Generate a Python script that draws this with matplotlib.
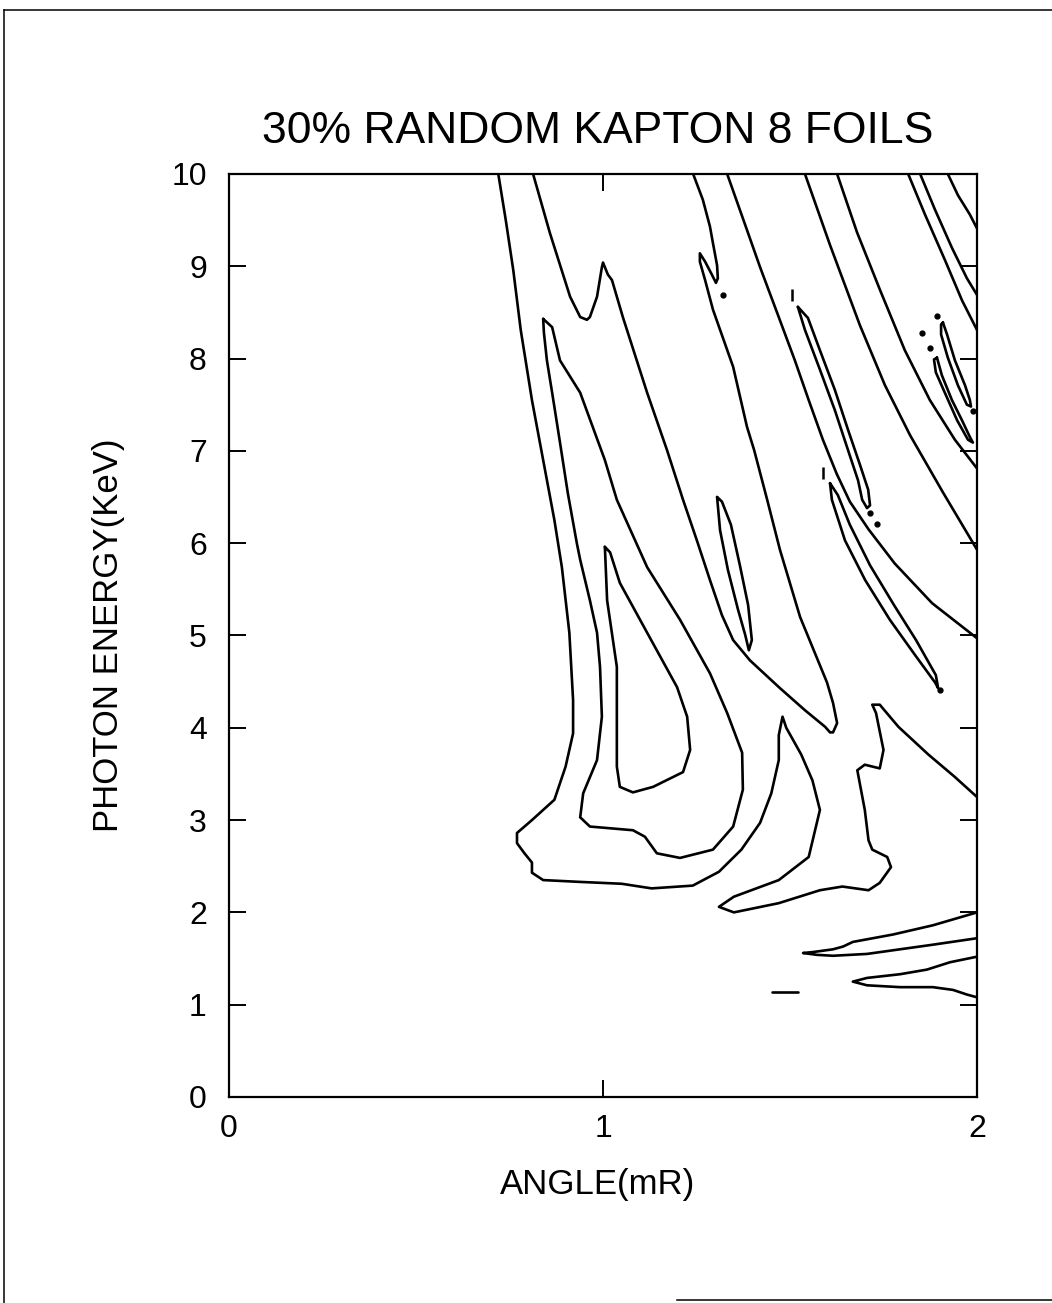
import numpy as np
import matplotlib
matplotlib.use("Agg")
import matplotlib.pyplot as plt
from matplotlib.lines import Line2D

plt.rcParams["font.family"] = ["Liberation Sans", "DejaVu Sans"]

title = "30% RANDOM KAPTON 8 FOILS"
x_label = "ANGLE(mR)"
y_label = "PHOTON ENERGY(KeV)"
x_ticks = [0, 1, 2]
y_ticks = list(range(0, 11))

# contour traces, as (angle mR, energy keV) pairs
outer = [(0.72, 10.0), (0.74, 9.50), (0.76, 8.96), (0.78, 8.31), (0.81, 7.55), (0.84, 6.90),
         (0.87, 6.25), (0.89, 5.74), (0.91, 5.03), (0.92, 4.30), (0.92, 3.94), (0.90, 3.58),
         (0.87, 3.22), (0.81, 3.00), (0.77, 2.86), (0.77, 2.75), (0.79, 2.64), (0.81, 2.54),
         (0.81, 2.43), (0.84, 2.35), (0.94, 2.33), (1.05, 2.31), (1.13, 2.26), (1.24, 2.29),
         (1.31, 2.44), (1.37, 2.68), (1.42, 2.97), (1.45, 3.29), (1.47, 3.65), (1.47, 3.92),
         (1.48, 4.12), (1.49, 4.00), (1.53, 3.71), (1.56, 3.43), (1.58, 3.11), (1.55, 2.60),
         (1.47, 2.35), (1.35, 2.17), (1.31, 2.06), (1.35, 2.00), (1.47, 2.10), (1.58, 2.24),
         (1.64, 2.28), (1.71, 2.24), (1.74, 2.32), (1.77, 2.49), (1.76, 2.60), (1.72, 2.68),
         (1.71, 2.78), (1.70, 3.11), (1.68, 3.54), (1.70, 3.60), (1.74, 3.56), (1.75, 3.76),
         (1.73, 4.16), (1.72, 4.25), (1.74, 4.25), (1.79, 4.01), (1.87, 3.71), (1.94, 3.47),
         (2.0, 3.25)]

fold = [(0.813, 10.0), (0.858, 9.36), (0.912, 8.67), (0.939, 8.45), (0.957, 8.42), (0.965, 8.45),
        (0.984, 8.67), (0.997, 8.99), (1.000, 9.04), (1.013, 8.91), (1.024, 8.85), (1.053, 8.45),
        (1.118, 7.63), (1.171, 7.01), (1.214, 6.47), (1.251, 6.03), (1.286, 5.60), (1.318, 5.22),
        (1.348, 4.95), (1.393, 4.73), (1.473, 4.43), (1.540, 4.19), (1.594, 4.01), (1.607, 3.95),
        (1.615, 3.95), (1.626, 4.05), (1.615, 4.27), (1.599, 4.49), (1.527, 5.20), (1.473, 5.93),
        (1.439, 6.47), (1.404, 7.01), (1.385, 7.26), (1.348, 7.91), (1.294, 8.53), (1.273, 8.85),
        (1.259, 9.05), (1.259, 9.14), (1.273, 9.05), (1.291, 8.91), (1.302, 8.82), (1.307, 8.87),
        (1.305, 9.01), (1.294, 9.25), (1.286, 9.43), (1.267, 9.72), (1.241, 10.0)]

loop_mid = [(0.840, 8.43), (0.842, 8.28), (0.850, 7.98), (0.864, 7.63), (0.885, 7.09), (0.906, 6.54),
            (0.930, 6.00), (0.939, 5.82), (0.965, 5.38), (0.984, 5.03), (0.992, 4.66), (0.997, 4.12),
            (0.984, 3.65), (0.947, 3.29), (0.939, 3.03), (0.965, 2.93), (1.080, 2.89), (1.112, 2.82),
            (1.144, 2.64), (1.206, 2.59), (1.294, 2.68), (1.348, 2.93), (1.374, 3.33), (1.372, 3.73),
            (1.332, 4.16), (1.286, 4.59), (1.206, 5.17), (1.118, 5.74), (1.037, 6.47), (1.005, 6.90),
            (0.939, 7.63), (0.885, 7.98), (0.864, 8.34), (0.840, 8.43)]

loop_inner = [(1.005, 5.96), (1.011, 5.38), (1.037, 4.66), (1.037, 3.58), (1.045, 3.36), (1.080, 3.30),
              (1.134, 3.36), (1.214, 3.52), (1.233, 3.76), (1.225, 4.12), (1.198, 4.44), (1.118, 5.03),
              (1.045, 5.57), (1.019, 5.90), (1.005, 5.96)]

finger = [(1.305, 6.50), (1.313, 6.14), (1.334, 5.71), (1.361, 5.28), (1.380, 5.01), (1.390, 4.84),
          (1.398, 4.95), (1.388, 5.33), (1.366, 5.76), (1.342, 6.20), (1.318, 6.45), (1.305, 6.50)]

sweep = [(1.332, 10.0), (1.380, 9.45), (1.420, 8.99), (1.468, 8.47), (1.513, 7.98), (1.550, 7.55),
         (1.588, 7.12), (1.625, 6.75), (1.660, 6.45), (1.710, 6.15), (1.780, 5.78), (1.880, 5.35),
         (2.0, 4.97)]

streak_upper = [(1.521, 8.56), (1.540, 8.31), (1.580, 7.88), (1.620, 7.44), (1.655, 7.01), (1.682, 6.68),
                (1.693, 6.47), (1.706, 6.38), (1.714, 6.41), (1.709, 6.58), (1.687, 6.85), (1.655, 7.23),
                (1.620, 7.66), (1.580, 8.09), (1.548, 8.44), (1.521, 8.56)]

streak_lower = [(1.607, 6.65), (1.612, 6.47), (1.647, 6.03), (1.701, 5.60), (1.767, 5.17), (1.834, 4.79),
                (1.888, 4.49), (1.896, 4.43), (1.890, 4.57), (1.837, 4.95), (1.778, 5.33), (1.714, 5.76),
                (1.660, 6.20), (1.628, 6.52), (1.607, 6.65)]

band1 = [(1.540, 10.0), (1.607, 9.23), (1.687, 8.36), (1.754, 7.71), (1.821, 7.17), (1.909, 6.55), (2.0, 5.93)]
band2 = [(1.626, 10.0), (1.679, 9.37), (1.741, 8.74), (1.807, 8.09), (1.874, 7.55), (1.941, 7.12), (2.0, 6.81)]
band3 = [(1.816, 10.0), (1.861, 9.56), (1.914, 9.07), (1.960, 8.63), (2.0, 8.31)]
band4 = [(1.848, 10.0), (1.888, 9.61), (1.933, 9.20), (1.973, 8.87), (2.0, 8.69)]
band5 = [(1.922, 10.0), (1.949, 9.77), (1.981, 9.56), (2.0, 9.41)]

rim_loop1 = [(1.909, 8.39), (1.920, 8.26), (1.941, 7.98), (1.968, 7.71), (1.981, 7.55), (1.984, 7.48),
             (1.973, 7.50), (1.949, 7.71), (1.922, 8.01), (1.904, 8.26), (1.904, 8.37), (1.909, 8.39)]
rim_loop2 = [(1.893, 8.01), (1.906, 7.82), (1.933, 7.55), (1.960, 7.33), (1.981, 7.15), (1.989, 7.09),
             (1.976, 7.12), (1.947, 7.33), (1.914, 7.63), (1.890, 7.85), (1.885, 7.99), (1.893, 8.01)]

tongue1 = [(2.0, 2.00), (1.882, 1.86), (1.775, 1.76), (1.668, 1.68), (1.642, 1.63), (1.615, 1.60),
           (1.561, 1.57), (1.535, 1.56), (1.572, 1.54), (1.615, 1.53), (1.706, 1.55), (1.794, 1.60),
           (1.882, 1.65), (2.0, 1.72)]
tongue2 = [(2.0, 1.52), (1.928, 1.46), (1.866, 1.38), (1.794, 1.33), (1.706, 1.29), (1.668, 1.25),
           (1.706, 1.21), (1.794, 1.19), (1.882, 1.19), (1.936, 1.16), (1.973, 1.11), (2.0, 1.08)]
dash = [(1.452, 1.14), (1.521, 1.14)]

# isolated specks of contour
speck_angle = [1.321, 1.714, 1.733, 1.901, 1.893, 1.853, 1.874, 1.989]
speck_energy = [8.69, 6.33, 6.21, 4.41, 8.46, 8.28, 8.11, 7.43]
tick_speck_angle = [1.505, 1.588]
tick_speck_energy = [8.69, 6.76]

contours = [outer, fold, loop_mid, loop_inner, finger, sweep, streak_upper, streak_lower,
            band1, band2, band3, band4, band5, rim_loop1, rim_loop2, tongue1, tongue2, dash]

fig = plt.figure(figsize=(10.52, 13.03), dpi=100)
ax = fig.add_axes([0.2177, 0.1581, 0.711, 0.7084])

for path in contours:
    a, e = np.array(path).T
    ax.plot(a, e, color="black", lw=1.9, solid_joinstyle="round", solid_capstyle="round")

ax.plot(speck_angle, speck_energy, "o", color="black", ms=3.5)
ax.plot(tick_speck_angle, tick_speck_energy, "|", color="black", ms=8, mew=1.8)

ax.set_xlim(0, 2)
ax.set_ylim(0, 10)
ax.set_xticks(x_ticks)
ax.set_yticks(y_ticks)
ax.tick_params(axis="x", direction="in", top=True, length=12, width=1.4, labelsize=23, pad=12)
ax.tick_params(axis="y", direction="in", right=True, length=12, width=1.4, labelsize=23, pad=16)
for s in ax.spines.values():
    s.set_linewidth(1.6)

fig.text(0.5685, 0.8990, title, ha="center", va="center", fontsize=32)
fig.text(0.5685, 0.0906, x_label, ha="center", va="center", fontsize=25)
fig.text(0.1027, 0.5127, y_label, ha="center", va="center", rotation=90, fontsize=25)

# page frame from the scan
fig.add_artist(Line2D([0.0038, 0.0038], [0.0, 0.9923], color="black", lw=1.1))
fig.add_artist(Line2D([0.0038, 1.0], [0.9923, 0.9923], color="black", lw=1.1))
fig.add_artist(Line2D([0.644, 1.0], [0.0023, 0.0023], color="black", lw=1.1))

fig.savefig("out.png", dpi=100)
plt.close(fig)
